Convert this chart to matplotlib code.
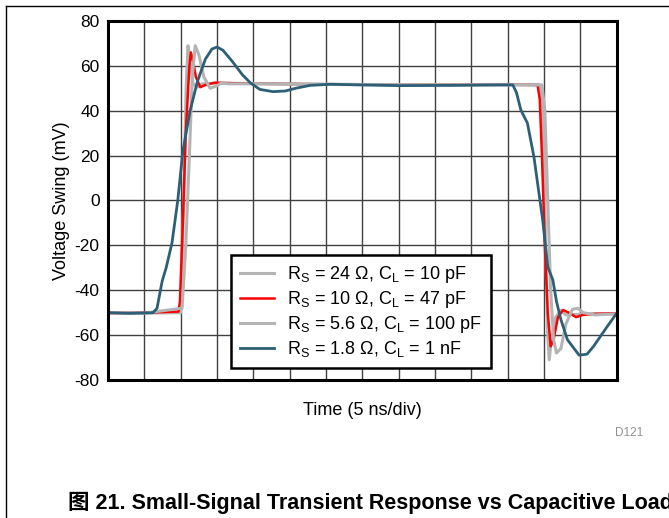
import matplotlib.pyplot as plt
from matplotlib.lines import Line2D

plt.rcParams['font.family'] = ['Liberation Sans', 'Noto Sans CJK SC', 'DejaVu Sans']
plt.rcParams['mathtext.fontset'] = 'custom'
plt.rcParams['mathtext.rm'] = 'Liberation Sans'
plt.rcParams['axes.unicode_minus'] = False

# time in ns (5 ns/div, 14 div), voltage in mV
t_a = [0, 5, 10.0, 10.06, 10.5, 10.75, 11.0, 11.3, 11.7, 12.3, 12.95, 15, 25, 35, 45, 55, 59.5, 59.9, 60.2, 60.5, 60.7, 61.0, 61.6, 62.3, 63.0, 66, 70]
v_a = [-50, -50.2, -50, -40, 10, 50, 69, 62, 52, 50.5, 52, 52.3, 52, 51.7, 51.6, 51.6, 51.5, 30, -20, -60, -71, -62, -52, -49, -51, -50.5, -50.5]

t_b = [0, 5, 9.7, 9.9, 10.3, 10.7, 11.2, 11.4, 11.7, 12.1, 12.7, 13.4, 14.7, 20, 30, 40, 50, 59.1, 59.4, 59.7, 60.1, 60.5, 60.9, 61.3, 61.9, 62.6, 63.4, 64.4, 65.3, 67, 70]
v_b = [-50.2, -50, -49.5, -45, -10, 30, 60, 66, 62, 55, 50.5, 51.5, 52.5, 52, 51.8, 51.5, 51.7, 51.5, 45, 20, -20, -50, -65, -62, -52, -48.8, -50, -52, -51, -50.5, -50.3]

t_c = [0, 5, 10.2, 10.7, 11.2, 11.6, 12.0, 12.5, 13.2, 14.05, 14.9, 15.7, 16.5, 20, 30, 40, 50, 59.7, 60.1, 60.5, 60.9, 61.3, 61.7, 62.3, 63.0, 63.9, 64.6, 65.4, 67, 70]
v_c = [-50, -50.2, -48, -20, 20, 55, 69, 65, 55, 50, 51, 52.5, 52, 52, 51.7, 51.6, 51.6, 51.5, 40, 0, -40, -62, -68, -66, -55, -48.5, -48, -50, -51, -50.5]

t_d = [0, 3.0, 6.2, 6.75, 7.45, 8.0, 8.8, 9.6, 10.3, 11.3, 12.3, 13.4, 14.3, 15.0, 15.8, 17.1, 18.5, 19.6, 20.9, 22.7, 24.4, 25.8, 27.8, 30.6, 34.7, 40.2, 47.1, 54.0, 55.7, 56.2, 56.8, 57.7, 58.6, 59.8, 60.5, 61.2, 61.7, 62.3, 63.2, 64.8, 65.9, 66.8, 68.5, 70.1]
v_d = [-50, -50.3, -50, -48, -36, -30, -19, 0, 22, 40, 53, 63, 67.5, 68.4, 67, 62, 56, 52.4, 49.5, 48.5, 48.8, 50, 51.3, 51.8, 51.5, 51.2, 51.3, 51.5, 51.5, 48, 40.3, 34.5, 19.4, -8.7, -29.6, -35.4, -45, -53, -62, -68.9, -68.5, -65, -57, -49.7]

labels = [r'R$_\mathregular{S}$ = 24 Ω, C$_\mathregular{L}$ = 10 pF',
          r'R$_\mathregular{S}$ = 10 Ω, C$_\mathregular{L}$ = 47 pF',
          r'R$_\mathregular{S}$ = 5.6 Ω, C$_\mathregular{L}$ = 100 pF',
          r'R$_\mathregular{S}$ = 1.8 Ω, C$_\mathregular{L}$ = 1 nF']
colors = ['#b4b4b4', '#ff0000', '#b4b4b4', '#2d5f77']

fig = plt.figure(figsize=(6.69, 5.18), dpi=100)
ax = fig.add_axes([0.1614, 0.2664, 0.7606, 0.6931])

ax.plot(t_a, v_a, color=colors[0], lw=2.2, label=labels[0])
ax.plot(t_b, v_b, color=colors[1], lw=1.8, label=labels[1])
ax.plot(t_c, v_c, color=colors[2], lw=2.2, label=labels[2])
ax.plot(t_d, v_d, color=colors[3], lw=2.0, label=labels[3])

ax.set_xlim(0, 70)
ax.set_ylim(-80, 80)
ax.set_xticks(range(0, 71, 5))
ax.set_xticklabels([])
ax.set_yticks(range(-80, 81, 20))
ax.tick_params(length=0, labelsize=12.5, pad=6)
ax.grid(True, color='#404040', lw=1.0)
ax.set_axisbelow(True)
for s in ax.spines.values():
    s.set_linewidth(2.2)
ax.set_xlabel('Time (5 ns/div)', fontsize=13, labelpad=10)
ax.set_ylabel('Voltage Swing (mV)', fontsize=13, labelpad=3)

leg = ax.legend(loc='lower left', bbox_to_anchor=(0.242, 0.033), borderaxespad=0,
                fontsize=13, frameon=True, fancybox=False, framealpha=1,
                edgecolor='black', handlelength=1.9, handletextpad=0.7,
                labelspacing=0.22, borderpad=0.5)
leg.get_frame().set_linewidth(1.8)

fig.text(0.92, 0.164, 'D121', fontsize=8.5, color='#909090', ha='left', va='center')
fig.text(0.102, 0.029, '图 21. Small-Signal Transient Response vs Capacitive Load',
         fontsize=15.5, fontweight='bold', ha='left', va='center')

fig.add_artist(Line2D([0.009, 1.0], [0.988, 0.988], color='black', lw=1.0))
fig.add_artist(Line2D([0.009, 0.009], [0.0, 0.988], color='black', lw=1.0))

fig.savefig('out.png', dpi=100)
